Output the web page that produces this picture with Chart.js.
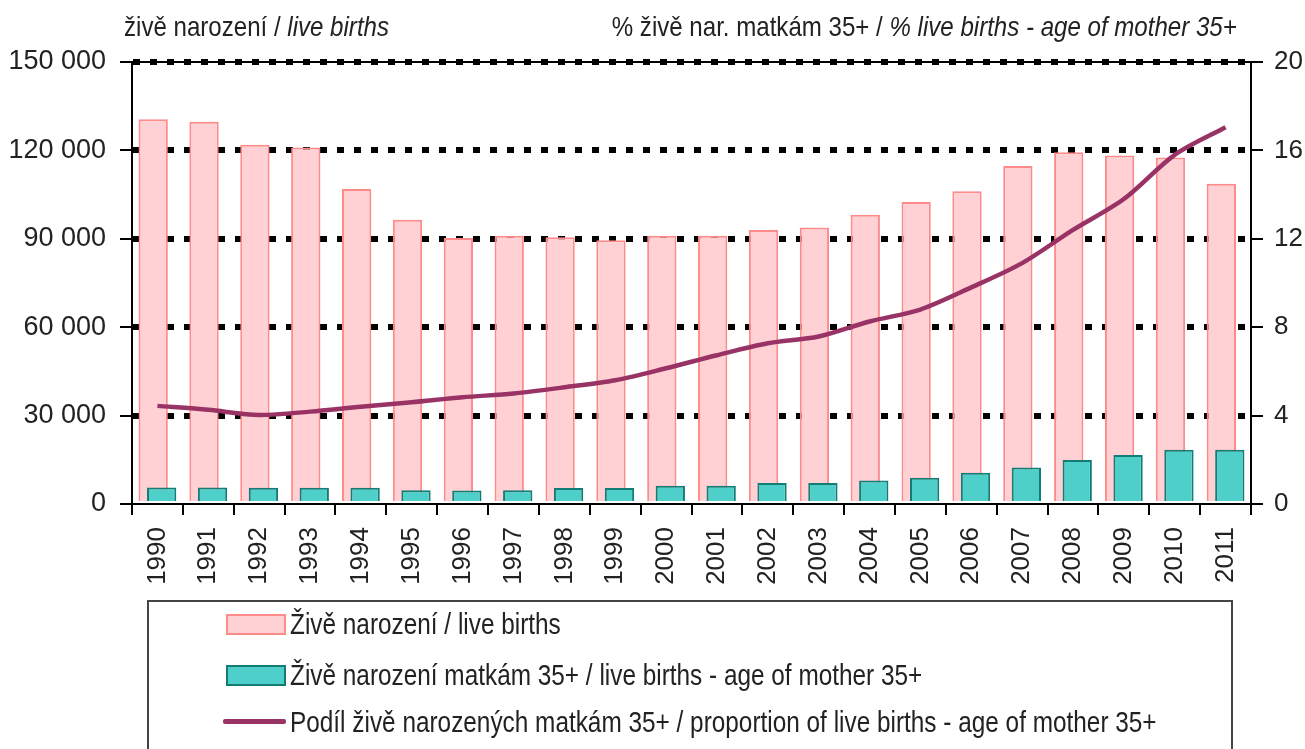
<!DOCTYPE html>
<html>
<head>
<meta charset="utf-8">
<script src="https://cdn.jsdelivr.net/npm/chart.js@4"></script>
<style>
  body { margin: 0; background: #fff; overflow: hidden; }
  #wrap { position: relative; width: 1305px; height: 749px; }
  .txt { position: absolute; font-family: 'Liberation Sans', Arial, sans-serif; color: #222; white-space: nowrap; }
  .title { font-size: 28px; top: 11px; }
  #legendBox { position: absolute; left: 147px; top: 600px; width: 1086px; height: 200px; border: 2px solid #444; box-sizing: border-box; }
  .sym { position: absolute; box-sizing: border-box; }
  .lbl { font-size: 29px; line-height: 32px; transform: scaleX(0.84); transform-origin: left center; }
</style>
</head>
<body>
<div id="wrap">
  <canvas id="birthsChart" width="1305" height="749"></canvas>
  <div class="txt title" style="left:124px;transform:scaleX(0.86);transform-origin:left top;">živě narození / <i>live births</i></div>
  <div class="txt title" style="right:68px;transform:scaleX(0.86);transform-origin:right top;">% živě nar. matkám 35+ / <i>% live births - age of mother 35+</i></div>
  <div id="legendBox"></div>
  <div id="legend"></div>
</div>
<script>
// data
const years = ['1990', '1991', '1992', '1993', '1994', '1995', '1996', '1997', '1998', '1999', '2000',
               '2001', '2002', '2003', '2004', '2005', '2006', '2007', '2008', '2009', '2010', '2011'];

const liveBirths = [130600, 129700, 121900, 121000, 106900, 96500, 90300, 91000, 90500, 89500, 91000,
                    91000, 93000, 93800, 98200, 102500, 106100, 114700, 119400, 118300, 117600, 108700];

const births35 = [5600, 5600, 5500, 5500, 5500, 4700, 4600, 4700, 5400, 5400, 6200,
                  6200, 7100, 7100, 8000, 8900, 10600, 12400, 14900, 16600, 18400, 18400];

const share35 = [4.44, 4.26, 4.03, 4.18, 4.4, 4.6, 4.83, 5.0, 5.28, 5.6, 6.14,
                 6.73, 7.27, 7.58, 8.26, 8.8, 9.8, 10.9, 12.4, 13.8, 15.8, 17.05];

const leftTicks = [0, 30000, 60000, 90000, 120000, 150000];
const rightTicks = [0, 4, 8, 12, 16, 20];

const labels = [
    'Živě narození / live births',
    'Živě narození matkám 35+ / live births - age of mother 35+',
    'Podíl živě narozených matkám 35+ / proportion of live births - age of mother 35+'
];

const axisFont = "'Liberation Sans', Arial, sans-serif";

function spaced(v) {
    return String(v).replace(/\B(?=(\d{3})+(?!\d))/g, ' ');
}

// pink bars are painted first so the teal ones sit over them
const pinkFirst = {
    id: 'pinkFirst',
    beforeDatasetsDraw(chart) {
        chart.getDatasetMeta(0).controller.draw();
    },
    beforeDatasetDraw(chart, args) {
        if (args.index === 0) return false;
    }
};

const ctx = document.getElementById('birthsChart').getContext('2d');

const chart = new Chart(ctx, {
    type: 'bar',
    data: {
        labels: years,
        datasets: [
            {
                label: labels[0],
                data: liveBirths,
                yAxisID: 'y',
                backgroundColor: '#ffd1d4',
                borderColor: '#ff8a8a',
                borderWidth: 2,
                categoryPercentage: 0.334,
                barPercentage: 3.45
            },
            {
                label: labels[1],
                data: births35,
                yAxisID: 'y',
                backgroundColor: '#4ecfca',
                borderColor: '#137c75',
                borderWidth: 2,
                categoryPercentage: 0.334,
                barPercentage: 3.45
            },
            {
                type: 'line',
                label: labels[2],
                data: share35,
                yAxisID: 'y2',
                order: -1,
                borderColor: '#993366',
                borderWidth: 4.5,
                pointRadius: 0,
                tension: 0.3,
                fill: false
            }
        ]
    },
    options: {
        responsive: false,
        animation: false,
        layout: { padding: { top: 62, left: 0, right: 0, bottom: 0 } },
        plugins: {
            legend: { display: false },
            tooltip: { enabled: false }
        },
        scales: {
            x: {
                type: 'category',
                position: 'bottom',
                offset: true,
                afterFit: s => { s.height = 245; },
                grid: { offset: true, drawOnChartArea: false, color: '#000', lineWidth: 2, tickLength: 11 },
                border: { color: '#000', width: 2 },
                ticks: {
                    autoSkip: false, minRotation: 90, maxRotation: 90, padding: 12,
                    color: '#222', font: { family: axisFont, size: 26 }
                }
            },
            xTop: {
                type: 'category',
                position: 'top',
                offset: true,
                afterFit: s => { s.height = 0; },
                grid: { drawOnChartArea: false, drawTicks: false },
                border: { color: '#000', width: 2 },
                ticks: { display: false }
            },
            y: {
                position: 'left',
                min: 0,
                max: 150000,
                afterFit: s => { s.width = 132; },
                afterBuildTicks: s => { s.ticks = leftTicks.map(v => ({ value: v })); },
                grid: {
                    color: c => (c.tick && c.tick.value === 0) ? 'rgba(0,0,0,0)' : '#000',
                    lineWidth: 6,
                    tickLength: 12,
                    tickColor: '#000',
                    tickWidth: 2,
                    tickBorderDash: []
                },
                border: { color: '#000', width: 2, dash: [7, 10] },
                ticks: {
                    padding: 14, color: '#222',
                    font: { family: axisFont, size: 27 },
                    callback: v => spaced(v)
                }
            },
            y2: {
                position: 'right',
                min: 0,
                max: 20,
                afterFit: s => { s.width = 54; },
                afterBuildTicks: s => { s.ticks = rightTicks.map(v => ({ value: v })); },
                grid: { drawOnChartArea: false, tickLength: 12, color: '#000', lineWidth: 2 },
                border: { color: '#000', width: 2 },
                ticks: {
                    padding: 11, color: '#222',
                    font: { family: axisFont, size: 26 }
                }
            }
        }
    },
    plugins: [pinkFirst]
});

// legend rows built from the datasets
const legend = document.getElementById('legend');
const rowCenters = [624, 675, 722];
chart.data.datasets.forEach((ds, i) => {
    const sym = document.createElement('div');
    sym.className = 'sym';
    if (ds.type === 'line') {
        sym.style.cssText = `left:223px;width:63px;top:${rowCenters[i] - 3}px;height:5px;background:${ds.borderColor};border-radius:2px;`;
    } else {
        sym.style.cssText = `left:226px;width:60px;top:${rowCenters[i] - 10}px;height:21px;background:${ds.backgroundColor};border:2px solid ${ds.borderColor};`;
    }
    legend.appendChild(sym);

    const t = document.createElement('div');
    t.className = 'txt lbl';
    t.style.left = '290px';
    t.style.top = (rowCenters[i] - 16) + 'px';
    t.textContent = ds.label;
    legend.appendChild(t);
});
</script>
</body>
</html>
